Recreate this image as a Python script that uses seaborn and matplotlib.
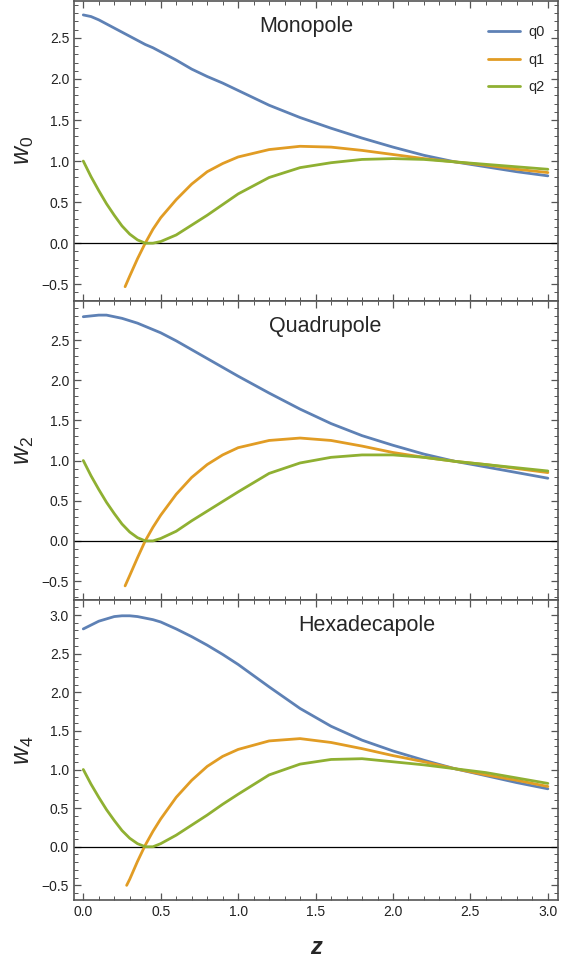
import numpy as np
import pandas as pd
import seaborn as sns
from matplotlib import pyplot as plt
from matplotlib.ticker import MultipleLocator

# z grid for q0 / q2, separate one for q1 (starts later)
z = [0, 0.05, 0.1, 0.15, 0.2, 0.25, 0.3, 0.35, 0.4, 0.45, 0.5, 0.6, 0.7, 0.8, 0.9,
     1.0, 1.2, 1.4, 1.6, 1.8, 2.0, 2.2, 2.4, 2.6, 2.8, 3.0]
z1_a = [0.27, 0.3, 0.35, 0.4, 0.45, 0.5, 0.6, 0.7, 0.8, 0.9,
        1.0, 1.2, 1.4, 1.6, 1.8, 2.0, 2.2, 2.4, 2.6, 2.8, 3.0]
z1_b = [0.28] + z1_a[1:]

# Monopole
mono_q0 = [2.78, 2.76, 2.72, 2.67, 2.62, 2.57, 2.52, 2.47, 2.42, 2.38, 2.33, 2.23, 2.12, 2.03, 1.95,
           1.86, 1.68, 1.53, 1.40, 1.28, 1.17, 1.07, 0.99, 0.93, 0.87, 0.82]
mono_q1 = [-0.53, -0.40, -0.19, 0.0, 0.17, 0.31, 0.53, 0.72, 0.87, 0.97,
           1.05, 1.14, 1.18, 1.17, 1.13, 1.08, 1.03, 0.99, 0.95, 0.90, 0.86]
mono_q2 = [1.0, 0.81, 0.64, 0.48, 0.34, 0.21, 0.11, 0.04, 0.0, 0.0, 0.02, 0.10, 0.22, 0.34, 0.47,
           0.60, 0.80, 0.92, 0.98, 1.02, 1.03, 1.02, 0.99, 0.96, 0.93, 0.90]

# Quadrupole
quad_q0 = [2.79, 2.80, 2.81, 2.81, 2.79, 2.77, 2.74, 2.71, 2.67, 2.63, 2.59, 2.49, 2.38, 2.27, 2.16,
           2.05, 1.84, 1.64, 1.46, 1.31, 1.19, 1.08, 0.99, 0.92, 0.85, 0.78]
quad_q1 = [-0.56, -0.43, -0.21, 0.0, 0.17, 0.32, 0.58, 0.79, 0.95, 1.07,
           1.16, 1.25, 1.28, 1.25, 1.18, 1.10, 1.04, 0.99, 0.95, 0.90, 0.85]
quad_q2 = [1.0, 0.81, 0.64, 0.48, 0.34, 0.21, 0.11, 0.04, 0.0, 0.0, 0.03, 0.12, 0.25, 0.37, 0.49,
           0.61, 0.84, 0.97, 1.04, 1.07, 1.07, 1.04, 0.99, 0.95, 0.91, 0.87]

# Hexadecapole
hexa_q0 = [2.82, 2.87, 2.92, 2.95, 2.98, 2.99, 2.99, 2.98, 2.96, 2.94, 2.91, 2.82, 2.72, 2.61, 2.49,
           2.36, 2.07, 1.79, 1.56, 1.38, 1.24, 1.12, 1.01, 0.92, 0.83, 0.75]
hexa_q1 = [-0.50, -0.42, -0.19, 0.02, 0.20, 0.36, 0.64, 0.86, 1.04, 1.17,
           1.26, 1.37, 1.40, 1.35, 1.27, 1.18, 1.10, 1.01, 0.93, 0.86, 0.78]
hexa_q2 = [1.0, 0.81, 0.64, 0.48, 0.34, 0.21, 0.11, 0.04, 0.0, 0.0, 0.04, 0.15, 0.28, 0.41, 0.55,
           0.68, 0.93, 1.07, 1.13, 1.14, 1.10, 1.06, 1.01, 0.96, 0.89, 0.82]

titles = ["Monopole", "Quadrupole", "Hexadecapole"]
ylabels = [r"$w_0$", r"$w_2$", r"$w_4$"]
series = ["q0", "q1", "q2"]
colors = ["#5E81B5", "#E19C24", "#8FB032"]

panels = [
    (mono_q0, mono_q1, mono_q2, z1_a),
    (quad_q0, quad_q1, quad_q2, z1_a),
    (hexa_q0, hexa_q1, hexa_q2, z1_b),
]
ylims = [(-0.70, 2.95), (-0.74, 2.99), (-0.69, 3.19)]
title_x = [0.481, 0.52, 0.605]

sns.set_style("ticks")
plt.rcParams["font.family"] = ["Liberation Sans", "DejaVu Sans"]
plt.rcParams["mathtext.fontset"] = "custom"
plt.rcParams["mathtext.it"] = "Liberation Sans:italic"
plt.rcParams["mathtext.rm"] = "Liberation Sans"

frame = "#555555"

fig, axs = plt.subplots(3, 1, figsize=(5.67, 9.58), dpi=100, sharex=True)
fig.subplots_adjust(left=0.1305, right=0.984, top=0.999, bottom=0.0605, hspace=0)

for i, (q0, q1, q2, z1) in enumerate(panels):
    ax: plt.Axes = axs[i]
    df = pd.concat([
        pd.DataFrame({"z": z, "w": q0, "s": "q0"}),
        pd.DataFrame({"z": z1, "w": q1, "s": "q1"}),
        pd.DataFrame({"z": z, "w": q2, "s": "q2"}),
    ])
    ax.axhline(0, color="black", lw=0.9, zorder=1)
    sns.lineplot(data=df, x="z", y="w", hue="s", hue_order=series, palette=colors,
                 lw=2.0, ax=ax, legend=(i == 0), sort=True, zorder=3)

    ax.set_xlim(-0.06, 3.065)
    ax.set_ylim(*ylims[i])
    ax.xaxis.set_major_locator(MultipleLocator(0.5))
    ax.xaxis.set_minor_locator(MultipleLocator(0.1))
    ax.yaxis.set_major_locator(MultipleLocator(0.5))
    ax.yaxis.set_minor_locator(MultipleLocator(0.1))
    ax.tick_params(which="both", direction="in", top=True, right=True, color=frame,
                   labelsize=10, labelcolor="#222222")
    ax.tick_params(which="major", length=5, width=0.9)
    ax.tick_params(which="minor", length=3, width=0.7)
    for sp in ax.spines.values():
        sp.set_color(frame)
        sp.set_linewidth(1.2)

    ax.set_ylabel(ylabels[i], fontsize=18, labelpad=4)
    ax.set_xlabel("")
    ax.text(title_x[i], 0.915, titles[i], transform=ax.transAxes, ha="center", va="center",
            fontsize=15.5)

    if i == 0:
        leg = ax.legend(loc="upper right", frameon=False, fontsize=10.5, handlelength=2.2,
                        labelspacing=0.95, handletextpad=0.55, borderaxespad=0.0,
                        bbox_to_anchor=(0.985, 0.94))
        for line in leg.get_lines():
            line.set_linewidth(2.0)

axs[2].set_xlabel("z", fontsize=17, fontstyle="italic", fontweight="bold", labelpad=12)

fig.savefig("out.png", dpi=100)
